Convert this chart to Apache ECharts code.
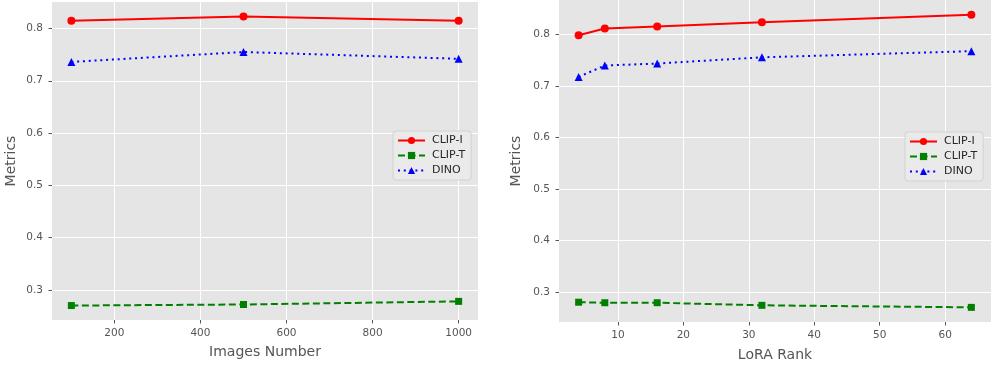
<!DOCTYPE html>
<html>
<head>
<meta charset="utf-8">
<script src="https://cdn.jsdelivr.net/npm/echarts@6/dist/echarts.min.js"></script>
<style>
  html, body { margin: 0; padding: 0; background: #fff; }
  #chart { width: 997px; height: 367px; }
</style>
</head>
<body>
<div id="chart"></div>
<script>
// left panel: number of training images
const imagesNumber = [100, 500, 1000];
const imgClipI = [0.815, 0.823, 0.815];
const imgClipT = [0.270, 0.272, 0.278];
const imgDino = [0.736, 0.755, 0.742];

// right panel: LoRA rank
const loraRank = [4, 8, 16, 32, 64];
const rankClipI = [0.799, 0.812, 0.816, 0.824, 0.839];
const rankClipT = [0.280, 0.279, 0.279, 0.274, 0.270];
const rankDino = [0.718, 0.740, 0.744, 0.756, 0.768];

// tick labels
const imgTicks = [200, 400, 600, 800, 1000];
const rankTicks = [10, 20, 30, 40, 50, 60];
const metricTicks = [0.3, 0.4, 0.5, 0.6, 0.7, 0.8];
const seriesNames = ['CLIP-I', 'CLIP-T', 'DINO'];

const FONT = 'DejaVu Sans';
const GREY = '#555555';

// matplotlib-style 5% margins around the data
function range(values) {
  const lo = Math.min(...values), hi = Math.max(...values);
  const pad = (hi - lo) * 0.05;
  return { min: lo - pad, max: hi + pad };
}

function pairs(xs, ys) {
  return xs.map((x, i) => [x, ys[i]]);
}

const styles = [
  { color: '#ff0000', type: 'solid', symbol: 'circle', size: 8 },
  { color: '#008000', type: [7, 3.5], symbol: 'rect', size: 7 },
  { color: '#0000ff', type: [2, 3.8], symbol: 'triangle', size: 8 }
];

function makeSeries(idx, xs, ysList) {
  return ysList.map((ys, k) => ({
    name: seriesNames[k],
    type: 'line',
    xAxisIndex: idx,
    yAxisIndex: idx,
    data: pairs(xs, ys),
    symbol: styles[k].symbol,
    symbolSize: styles[k].size,
    showAllSymbol: true,
    lineStyle: { color: styles[k].color, width: 2, type: styles[k].type },
    itemStyle: { color: styles[k].color },
    z: 3 - k
  }));
}

function xAxis(idx, xs, ticks, name, gap) {
  const r = range(xs);
  return {
    type: 'value', gridIndex: idx, min: r.min, max: r.max,
    name: name, nameLocation: 'middle', nameGap: gap,
    nameTextStyle: { fontSize: 14, color: GREY, fontFamily: FONT },
    axisLine: { show: false },
    axisTick: { show: true, length: 3.5, customValues: ticks, lineStyle: { color: GREY } },
    axisLabel: {
      customValues: ticks, color: GREY, fontSize: 10.5, fontFamily: FONT, margin: 8,
      formatter: v => String(v)
    },
    splitLine: { show: true, lineStyle: { color: '#ffffff', width: 1 } }
  };
}

function yAxis(idx, ysAll, gap) {
  const r = range(ysAll);
  return {
    type: 'value', gridIndex: idx, min: r.min, max: r.max,
    name: 'Metrics', nameLocation: 'middle', nameGap: gap,
    nameTextStyle: { fontSize: 14, color: GREY, fontFamily: FONT },
    axisLine: { show: false },
    axisTick: { show: true, length: 3.5, customValues: metricTicks, lineStyle: { color: GREY } },
    axisLabel: {
      customValues: metricTicks, color: GREY, fontSize: 10.5, fontFamily: FONT, margin: 9,
      formatter: v => v.toFixed(1)
    },
    splitLine: { show: true, lineStyle: { color: '#ffffff', width: 1 } }
  };
}

function legend(left, top) {
  return {
    orient: 'vertical', left: left, top: top, data: seriesNames,
    itemWidth: 27, itemHeight: 9, itemGap: 4,
    padding: [4, 6, 4, 4],
    backgroundColor: '#EAEAEA', borderColor: '#D2D2D2', borderWidth: 1, borderRadius: 3,
    textStyle: { fontSize: 11, color: '#262626', fontFamily: FONT, padding: [0, 0, 0, 2] }
  };
}

const chart = echarts.init(document.getElementById('chart'));
chart.setOption({
  animation: false,
  grid: [
    { left: 52, right: 519, top: 2, bottom: 47, show: true, backgroundColor: '#E5E5E5', borderWidth: 0 },
    { left: 559, right: 6, top: 0, bottom: 44, show: true, backgroundColor: '#E5E5E5', borderWidth: 0 }
  ],
  xAxis: [
    xAxis(0, imagesNumber, imgTicks, 'Images Number', 25),
    xAxis(1, loraRank, rankTicks, 'LoRA Rank', 26)
  ],
  yAxis: [
    yAxis(0, imgClipI.concat(imgClipT, imgDino), 34),
    yAxis(1, rankClipI.concat(rankClipT, rankDino), 36)
  ],
  legend: [legend(393, 131), legend(905, 132)],
  series: makeSeries(0, imagesNumber, [imgClipI, imgClipT, imgDino])
    .concat(makeSeries(1, loraRank, [rankClipI, rankClipT, rankDino]))
});
</script>
</body>
</html>
